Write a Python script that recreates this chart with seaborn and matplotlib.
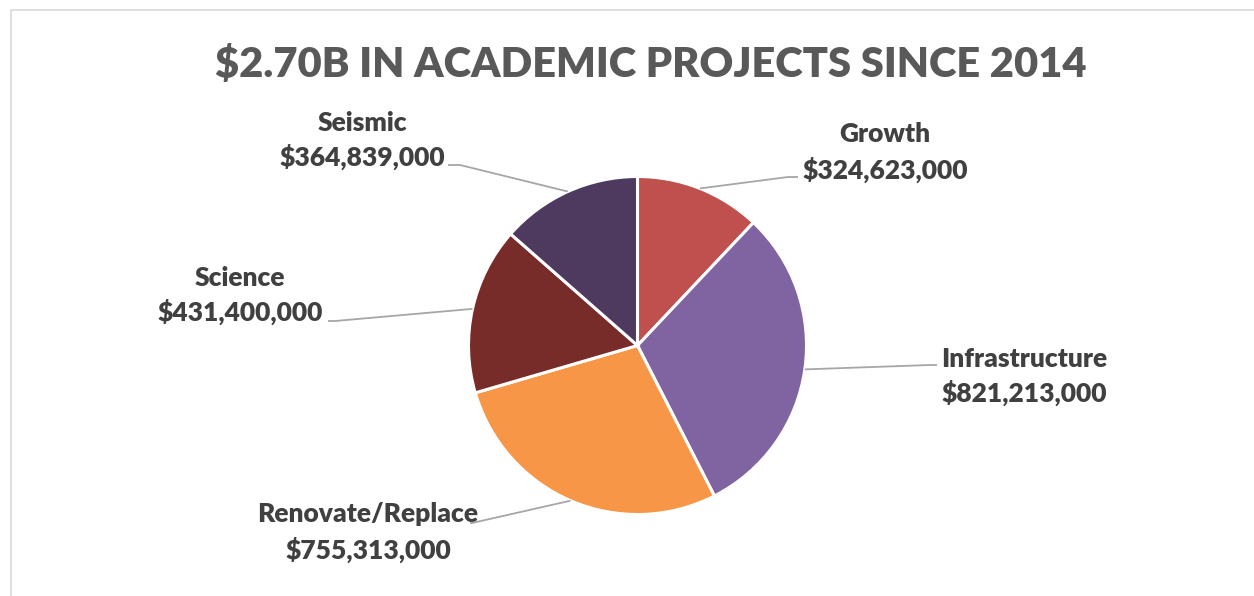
import numpy as np
import matplotlib
matplotlib.use("Agg")
import matplotlib.pyplot as plt
from matplotlib.patches import Rectangle
import seaborn as sns

# ---- data ----
categories = ["Growth", "Infrastructure", "Renovate/Replace", "Science", "Seismic"]
values = [324623000, 821213000, 755313000, 431400000, 364839000]
colors = ["#C0504D", "#8064A2", "#F79646", "#772C2A", "#4F3A5F"]
title = "$2.70B IN ACADEMIC PROJECTS SINCE 2014"

sns.set_theme(style="white")
plt.rcParams["font.family"] = ["Lato", "DejaVu Sans"]

W, H = 1254, 596
fig = plt.figure(figsize=(W / 100, H / 100), dpi=100)
ax = fig.add_axes([0, 0, 1, 1])

# pixel-like coordinates (y upward)
cx, cy, r = 637.5, H - 345.5, 169
wedges, _ = ax.pie(values, colors=colors, startangle=90, counterclock=False,
                   center=(cx, cy), radius=r,
                   wedgeprops=dict(edgecolor="white", linewidth=2.2))
ax.set_xlim(0, W)
ax.set_ylim(0, H)
ax.set_aspect("auto")
ax.axis("off")

# chart border (only top/left visible)
ax.add_patch(Rectangle((11, -30), W + 50, (H - 10) + 30, fill=False,
                       edgecolor="#D9D9D9", linewidth=1.2, clip_on=False))

# label layout: (text center x, baseline line1 px, baseline line2 px, elbow px, end px)
layout = {
    "Growth": (885, 142, 179, (788, 177), (798, 177)),
    "Infrastructure": (1024, 367, 402, (930, 365), (937, 365)),
    "Renovate/Replace": (368, 522, 559, (472, 523), (470, 523)),
    "Science": (240, 286, 321, (335, 321), (328, 321)),
    "Seismic": (362, 131, 166, (460, 165), (448, 165)),
}

for w, cat, val in zip(wedges, categories, values):
    ang = np.deg2rad((w.theta1 + w.theta2) / 2)
    sx, sy = cx + r * np.cos(ang), cy + r * np.sin(ang)
    tx, b1, b2, elbow, end = layout[cat]
    ax.plot([sx, elbow[0], end[0]], [sy, H - elbow[1], H - end[1]],
            color="#A6A6A6", linewidth=1.3, solid_capstyle="butt", zorder=1)
    ax.text(tx, H - b1, cat, ha="center", va="baseline", fontsize=19,
            fontweight="heavy", color="#404040")
    ax.text(tx, H - b2, f"${val:,.0f}", ha="center", va="baseline", fontsize=19,
            fontweight="heavy", color="#404040")

ax.text(651, H - 77, title, ha="center", va="baseline", fontsize=30,
        fontweight="heavy", color="#595959")

fig.savefig("out.png", dpi=100, facecolor="white")
